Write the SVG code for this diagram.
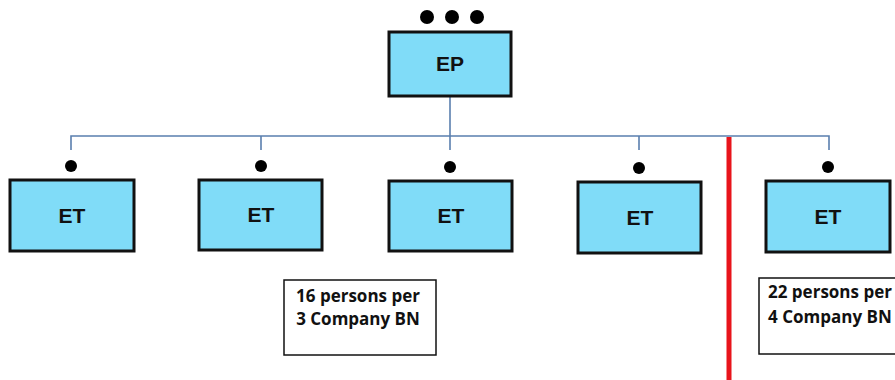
<svg xmlns="http://www.w3.org/2000/svg" width="895" height="380" viewBox="0 0 895 380">
<style>
.box{fill:#80dcf8;stroke:#111;stroke-width:3}
.lbl{font-family:"Liberation Sans",Arial,sans-serif;font-weight:bold;font-size:21px;fill:#111;text-anchor:middle}
.dot{fill:#000}
.conn{fill:none;stroke:#5a7fae;stroke-width:1.6}
.note{fill:#fff;stroke:#111;stroke-width:1.5}
.nt{font-family:"Open Sans","Liberation Sans",sans-serif;font-weight:bold;font-size:17px;fill:#111}
</style>
<rect width="895" height="380" fill="#fff"/>
<g id="connectors">
<path class="conn" d="M450 97V136M71 150V136H829V150M261 136V150M450 136V150M639 136V150"/>
</g>
<g id="EP">
<circle class="dot" cx="427" cy="17" r="7"/><circle class="dot" cx="452" cy="17" r="7"/><circle class="dot" cx="477" cy="17" r="7"/>
<rect class="box" x="389" y="32" width="122" height="64"/>
<text class="lbl" x="450" y="71">EP</text>
</g>
<g id="ET1">
<circle class="dot" cx="71" cy="166" r="6"/>
<rect class="box" x="10" y="180" width="124" height="71"/>
<text class="lbl" x="72" y="223">ET</text>
</g>
<g id="ET2">
<circle class="dot" cx="261" cy="166" r="6"/>
<rect class="box" x="199" y="180" width="123" height="70"/>
<text class="lbl" x="261" y="222">ET</text>
</g>
<g id="ET3">
<circle class="dot" cx="450" cy="167" r="6"/>
<rect class="box" x="389" y="181" width="123" height="70"/>
<text class="lbl" x="451" y="223">ET</text>
</g>
<g id="ET4">
<circle class="dot" cx="639" cy="168" r="6"/>
<rect class="box" x="578" y="182" width="123" height="71"/>
<text class="lbl" x="640" y="225">ET</text>
</g>
<g id="ET5">
<circle class="dot" cx="828" cy="167" r="6"/>
<rect class="box" x="766" y="181" width="124" height="71"/>
<text class="lbl" x="828" y="224">ET</text>
</g>
<line x1="729" y1="137" x2="729" y2="380" stroke="#e8141b" stroke-width="5"/>
<g id="note1">
<rect class="note" x="284" y="280" width="152" height="75"/>
<text class="nt" x="358" y="302" text-anchor="middle">16 persons per</text>
<text class="nt" x="358" y="325" text-anchor="middle">3 Company BN</text>
</g>
<g id="note2">
<rect class="note" x="759" y="278" width="140" height="76"/>
<text class="nt" x="768" y="298">22 persons per</text>
<text class="nt" x="768" y="323">4 Company BN</text>
</g>
</svg>
